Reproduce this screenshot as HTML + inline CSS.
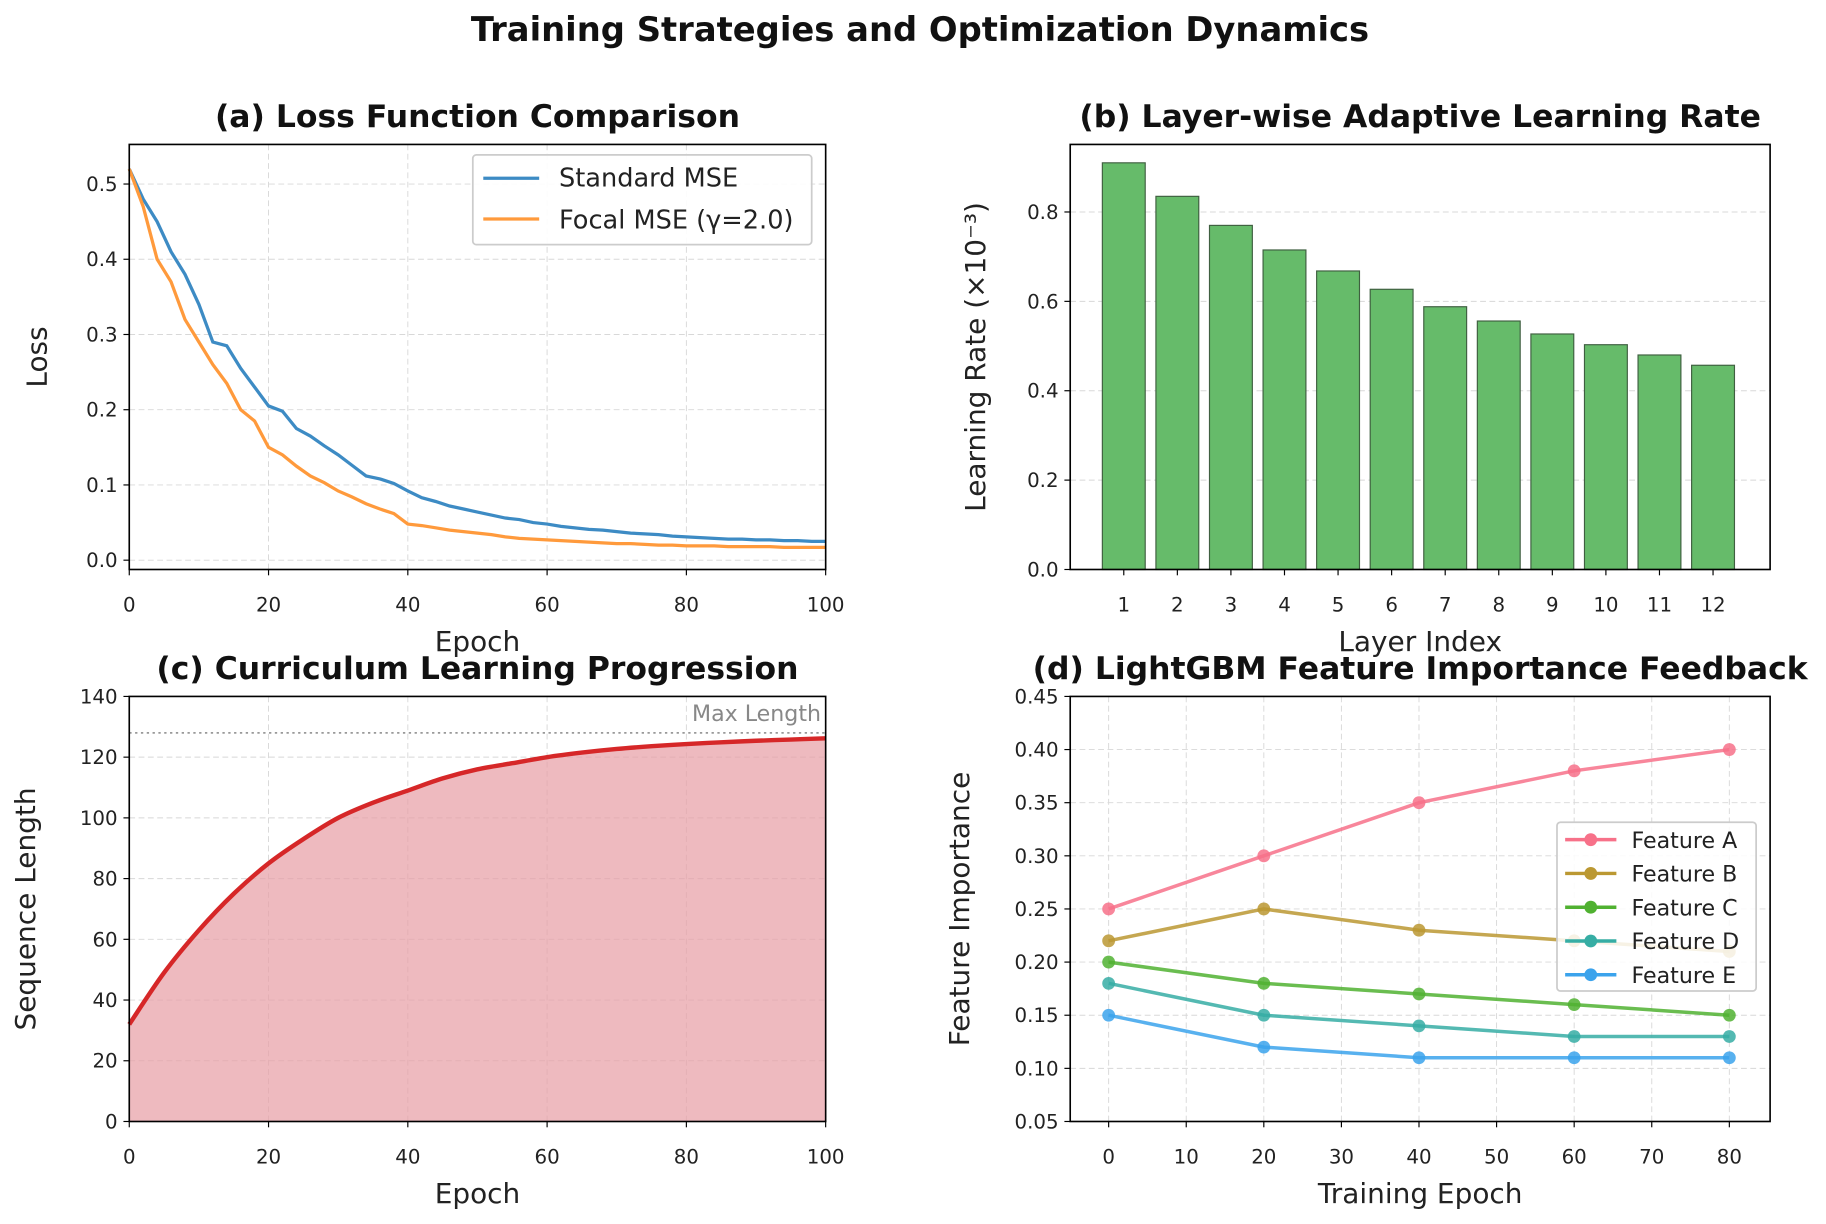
<!DOCTYPE html>
<html><head><meta charset="utf-8"><style>
html,body{margin:0;padding:0;background:#fff;}
svg{display:block;font-family:"DejaVu Sans","Liberation Sans",sans-serif;}
</style></head><body>
<svg id="fig" width="1826" height="1224" viewBox="0 0 1568 1051" xmlns="http://www.w3.org/2000/svg">
<text x="790" y="35" text-anchor="middle" font-size="29" font-weight="bold" fill="#111">Training Strategies and Optimization Dynamics</text>
</svg>
<script>
// ---- data ----
const lossEpochs = [0,2,4,6,8,10,12,14,16,18,20,22,24,26,28,30,32,34,36,38,40,42,44,46,48,50,52,54,56,58,60,62,64,66,68,70,72,74,76,78,80,82,84,86,88,90,92,94,96,98,100];
const stdLoss = [.52,.48,.45,.41,.38,.34,.29,.285,.255,.23,.205,.198,.175,.165,.152,.14,.126,.112,.108,.102,.092,.083,.078,.072,.068,.064,.060,.056,.054,.050,.048,.045,.043,.041,.040,.038,.036,.035,.034,.032,.031,.030,.029,.028,.028,.027,.027,.026,.026,.025,.025];
const focalLoss = [.52,.47,.40,.37,.32,.29,.26,.235,.20,.185,.15,.14,.125,.112,.103,.092,.084,.075,.068,.062,.048,.046,.043,.040,.038,.036,.034,.031,.029,.028,.027,.026,.025,.024,.023,.022,.022,.021,.020,.020,.019,.019,.019,.018,.018,.018,.018,.017,.017,.017,.017];
const layers = [1,2,3,4,5,6,7,8,9,10,11,12];
const layerLR = [0.91,0.835,0.77,0.715,0.668,0.627,0.588,0.556,0.527,0.503,0.48,0.457];
const currEpochs = [0,5,10,15,20,25,30,35,40,45,50,55,60,65,70,75,80,85,90,95,100];
const seqLen = [32,49,63,75,85,93,100,105,109,113,116,118,120,121.5,122.7,123.6,124.3,124.9,125.4,125.8,126.2];
const maxLen = 128;
const featEpochs = [0,20,40,60,80];
const featNames = ["Feature A","Feature B","Feature C","Feature D","Feature E"];
const featA = [.25,.30,.35,.38,.40];
const featB = [.22,.25,.23,.22,.21];
const featC = [.20,.18,.17,.16,.15];
const featD = [.18,.15,.14,.13,.13];
const featE = [.15,.12,.11,.11,.11];

const svg = document.getElementById('fig');
const NS = 'http://www.w3.org/2000/svg';
function mk(tag, attrs, parent){const e=document.createElementNS(NS,tag);for(const k in attrs)e.setAttribute(k,attrs[k]);(parent||svg).appendChild(e);return e;}
function txt(s,attrs,parent){const e=mk('text',attrs,parent);e.textContent=s;return e;}
function lin(d0,d1,r0,r1){return v=>r0+(v-d0)*(r1-r0)/(d1-d0);}

function axes(o){
  const g=mk('g',{});
  
  
  mk('rect',{x:o.x0,y:o.y0,width:o.x1-o.x0,height:o.y1-o.y0,fill:'#fff'},g);
  const grid=mk('g',{stroke:'#d8d8d8','stroke-width':0.8,'stroke-dasharray':'5,3'},g);
  if(o.xgrid!==false) o.xticks.forEach(t=>mk('line',{x1:o.xs(t),x2:o.xs(t),y1:o.y0,y2:o.y1},grid));
  o.yticks.forEach(t=>mk('line',{x1:o.x0,x2:o.x1,y1:o.ys(t),y2:o.ys(t)},grid));
  o.xticks.forEach((t,i)=>{
    mk('line',{x1:o.xs(t),x2:o.xs(t),y1:o.y1,y2:o.y1+5,stroke:'#000','stroke-width':1},g);
    const l=txt(String(t),{x:o.xs(t),y:o.y1+36,'text-anchor':'middle','font-size':17,fill:'#222'},g);
    
    
  });
  o.yticks.forEach(t=>{
    mk('line',{x1:o.x0-5,x2:o.x0,y1:o.ys(t),y2:o.ys(t),stroke:'#000','stroke-width':1},g);
    const l=txt(o.yfmt(t),{x:o.x0-10,y:o.ys(t)+6,'text-anchor':'end','font-size':17,fill:'#222'},g);
    
    
  });
  const t=txt(o.title,{x:(o.x0+o.x1)/2+(o.tdx||0),y:o.y0-15,'text-anchor':'middle','font-size':27,'font-weight':'bold',fill:'#111'});
  
  
  const xl=txt(o.xlabel,{x:(o.x0+o.x1)/2,y:o.y1+70,'text-anchor':'middle','font-size':24,fill:'#222'});
  
  
  const cy=(o.y0+o.y1)/2;
  const yl=txt(o.ylabel,{x:o.ylx,y:cy,'text-anchor':'middle','font-size':24,fill:'#222',transform:`rotate(-90 ${o.ylx} ${cy})`});
  
  
  return g;
}
function frame(o){mk('rect',{x:o.x0,y:o.y0,width:o.x1-o.x0,height:o.y1-o.y0,fill:'none',stroke:'#000','stroke-width':1.4});}
function pts(xs,ys,X,Y){return X.map((v,i)=>xs(v).toFixed(2)+','+ys(Y[i]).toFixed(2)).join(' ');}
function smooth(xs,ys,X,Y){
  const P=X.map((v,i)=>[xs(v),ys(Y[i])]);
  let d='M'+P[0][0]+','+P[0][1];
  for(let i=0;i<P.length-1;i++){
    const p0=P[i-1]||P[i],p1=P[i],p2=P[i+1],p3=P[i+2]||p2;
    const c1=[p1[0]+(p2[0]-p0[0])/6,p1[1]+(p2[1]-p0[1])/6];
    const c2=[p2[0]-(p3[0]-p1[0])/6,p2[1]-(p3[1]-p1[1])/6];
    d+=` C${c1[0].toFixed(2)},${c1[1].toFixed(2)} ${c2[0].toFixed(2)},${c2[1].toFixed(2)} ${p2[0].toFixed(2)},${p2[1].toFixed(2)}`;
  }
  return d;
}

// ---- (a) ----
{
 const o={x0:111,x1:709,y0:124,y1:489,name:'loss-panel',title:'(a) Loss Function Comparison',xlabel:'Epoch',ylabel:'Loss',ylx:40};
 o.xs=lin(0,100,111,709); o.ys=lin(0,0.5,481,158);
 o.xticks=[0,20,40,60,80,100]; o.yticks=[0,.1,.2,.3,.4,.5]; o.yfmt=v=>v.toFixed(1);
 const g=axes(o);
 const a=mk('polyline',{points:pts(o.xs,o.ys,lossEpochs,stdLoss),fill:'none',stroke:'#3d8bc4','stroke-width':2.8},g);
 
 
 const b=mk('polyline',{points:pts(o.xs,o.ys,lossEpochs,focalLoss),fill:'none',stroke:'#ff9a3c','stroke-width':2.8},g);
 
 
 frame(o);
 const lg=mk('g',{});
 
 
 mk('rect',{x:406,y:133,width:291,height:77,fill:'#fff','fill-opacity':0.9,stroke:'#ccc','stroke-width':1.5,rx:3},lg);
 mk('line',{x1:415,x2:463,y1:153,y2:153,stroke:'#3d8bc4','stroke-width':2.8},lg);
 txt('Standard MSE',{x:480,y:160,'font-size':22,fill:'#222'},lg);
 mk('line',{x1:415,x2:463,y1:188,y2:188,stroke:'#ff9a3c','stroke-width':2.8},lg);
 txt('Focal MSE (γ=2.0)',{x:480,y:196,'font-size':22,fill:'#222'},lg);
}
// ---- (b) ----
{
 const o={x0:919,x1:1520,y0:124,y1:489,name:'learning-rate-panel',title:'(b) Layer-wise Adaptive Learning Rate',xlabel:'Layer Index',ylabel:'Learning Rate (×10⁻³)',ylx:846,xgrid:false};
 o.xs=lin(1,12,965,1471); o.ys=lin(0,0.8,489,182);
 o.xticks=layers; o.yticks=[0,.2,.4,.6,.8]; o.yfmt=v=>v.toFixed(1);
 const g=axes(o);
 const bw=0.8*(o.xs(2)-o.xs(1));
 layers.forEach((L,i)=>{
  const r=mk('rect',{x:o.xs(L)-bw/2,y:o.ys(layerLR[i]),width:bw,height:o.ys(0)-o.ys(layerLR[i]),fill:'#66bb6a',stroke:'#3f5f40','stroke-width':1},g);
  
  
 });
 frame(o);
}
// ---- (c) ----
{
 const o={x0:111,x1:709,y0:598,y1:963,name:'curriculum-panel',title:'(c) Curriculum Learning Progression',xlabel:'Epoch',ylabel:'Sequence Length',ylx:30};
 o.xs=lin(0,100,111,709); o.ys=lin(0,140,963,598);
 o.xticks=[0,20,40,60,80,100]; o.yticks=[0,20,40,60,80,100,120,140]; o.yfmt=v=>String(v);
 const g=axes(o);
 const d=smooth(o.xs,o.ys,currEpochs,seqLen);
 const f=mk('path',{d:d+` L${o.xs(currEpochs[currEpochs.length-1])},${o.ys(0)} L${o.xs(currEpochs[0])},${o.ys(0)} Z`,fill:'#e8a0a6','fill-opacity':0.72},g);
 
 
 const l=mk('path',{d:d,fill:'none',stroke:'#d62728','stroke-width':3.8},g);
 
 
 const m=mk('line',{x1:o.x0,x2:o.x1,y1:o.ys(maxLen),y2:o.ys(maxLen),stroke:'#999','stroke-width':1.5,'stroke-dasharray':'2,3'},g);
 
 
 const mt=txt('Max Length',{x:705,y:619,'text-anchor':'end','font-size':19,fill:'#888'},g);
 
 
 frame(o);
}
// ---- (d) ----
{
 const o={x0:919,x1:1520,y0:598,y1:963,name:'feature-importance-panel',title:'(d) LightGBM Feature Importance Feedback',xlabel:'Training Epoch',ylabel:'Feature Importance',ylx:832,tdx:0};
 o.xs=lin(0,80,952,1485); o.ys=lin(0.05,0.45,963,598);
 o.xticks=[0,10,20,30,40,50,60,70,80]; o.yticks=[.05,.1,.15,.2,.25,.3,.35,.4,.45]; o.yfmt=v=>v.toFixed(2);
 const g=axes(o);
 const series=[featA,featB,featC,featD,featE];
 const cols=['#f77189','#bb9832','#50b131','#36ada4','#3ba3ec'];
 series.forEach((s,k)=>{
  const sg=mk('g',{},g);
  
  
  mk('polyline',{points:pts(o.xs,o.ys,featEpochs,s),fill:'none',stroke:cols[k],'stroke-width':3,'stroke-opacity':0.85},sg);
  featEpochs.forEach((e,i)=>{
   const c=mk('circle',{cx:o.xs(e),cy:o.ys(s[i]),r:5.5,fill:cols[k],'fill-opacity':0.85},sg);
   
   
  });
 });
 const lg=mk('g',{});
 
 
 mk('rect',{x:1337,y:706,width:171,height:145,fill:'#fff','fill-opacity':0.85,stroke:'#ccc','stroke-width':1.5,rx:3},lg);
 featNames.forEach((n,k)=>{
  const y=721+k*29;
  mk('line',{x1:1344,x2:1388,y1:y,y2:y,stroke:cols[k],'stroke-width':3},lg);
  mk('circle',{cx:1366,cy:y,r:5.5,fill:cols[k]},lg);
  txt(n,{x:1401,y:y+7,'font-size':19,fill:'#222'},lg);
 });
 frame(o);
}
</script>
</body></html>
